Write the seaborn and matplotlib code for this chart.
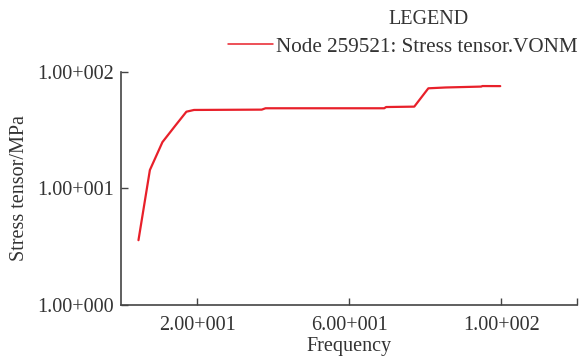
import matplotlib
matplotlib.use("Agg")
import matplotlib.pyplot as plt
import seaborn as sns
import pandas as pd

# values
freq = [4.6, 7.6, 10.9, 14.4, 17.2, 19.2, 37.0, 38.0, 57.8, 60.0, 69.2, 69.7, 77.1, 80.8, 85.4, 94.7, 95.0, 99.7]
stress = [3.6, 14.4, 25.0, 35.0, 45.6, 47.2, 47.5, 48.8, 48.8, 48.8, 48.8, 50.0, 50.4, 72.4, 73.6, 74.9, 75.7, 75.6]
x_ticks = [20, 60, 100]
x_labels = ["2.00+001", "6.00+001", "1.00+002"]
y_ticks = [1, 10, 100]
y_labels = ["1.00+000", "1.00+001", "1.00+002"]
series_name = "Node 259521: Stress tensor.VONM"

df = pd.DataFrame({"Frequency": freq, "Stress": stress, "series": series_name})

sns.set_style("white")
plt.rcParams["font.family"] = ["Liberation Serif", "DejaVu Serif"]
txt = "#333333"
fs = 14.5

fig = plt.figure(figsize=(5.83, 3.58), dpi=100)
ax = fig.add_axes([0.2075, 0.148, 0.783, 0.651])

sns.lineplot(data=df, x="Frequency", y="Stress", hue="series", palette=["#e8202a"],
             linewidth=1.6, ax=ax, estimator=None, sort=False)

ax.set_yscale("log")
ax.set_ylim(1, 100)
ax.set_xlim(0, 120)
ax.set_xticks(x_ticks)
ax.set_xticklabels(x_labels)
ax.set_xticks([120], minor=True)
ax.set_yticks(y_ticks)
ax.set_yticklabels(y_labels)
ax.yaxis.set_minor_locator(matplotlib.ticker.NullLocator())
ax.tick_params(axis="both", which="both", direction="in", length=5, width=1,
               color="#444444", labelsize=fs, labelcolor=txt, pad=5,
               left=True, bottom=True)
ax.tick_params(axis="x", pad=8)

for s in ["top", "right"]:
    ax.spines[s].set_visible(False)
for s in ["left", "bottom"]:
    ax.spines[s].set_color("#444444")
    ax.spines[s].set_linewidth(1.2)

ax.set_xlabel("Frequency", fontsize=fs, color=txt, labelpad=1)
ax.set_ylabel("Stress tensor/MPa", fontsize=fs, color=txt, labelpad=6)

leg = ax.legend(loc="lower right", bbox_to_anchor=(1.0, 1.065),
                frameon=False, fontsize=15.2,
                handlelength=2.1, handletextpad=0.15, borderaxespad=0,
                borderpad=0)
for t in leg.get_texts():
    t.set_color(txt)
for h in leg.get_lines():
    h.set_linewidth(1.1)
fig.text(429 / 583, 1 - 20 / 358, "LEGEND", ha="center", va="center",
         fontsize=fs, color=txt)

fig.savefig("out.png", dpi=100)
